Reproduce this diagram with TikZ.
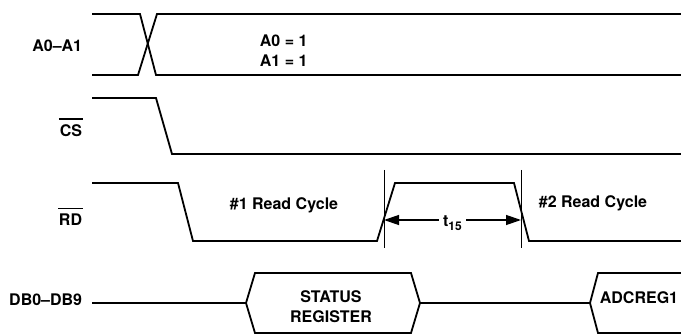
\documentclass[tikz,border=0pt]{standalone}
\usepackage{fontspec}
\setmainfont{TeX Gyre Heros}
\usetikzlibrary{arrows.meta, positioning, calc}

\begin{document}
\begin{tikzpicture}[x=1pt, y=-1pt, >={Triangle[length=15pt, width=10pt]}, line width=1.8pt,
  lbl/.style={font=\fontsize{16}{20}\selectfont\bfseries, inner sep=0pt},
  sig/.style={line width=1.8pt, line join=miter},
  mark line/.style={line width=0.8pt}]

\useasboundingbox (0,0) rectangle (681,334);

% Signal names
\node[lbl, anchor=east] (nA) at (83,46) {A0--A1};
\node[lbl, anchor=east] (nCS) at (83,131) {CS};
\node[lbl, anchor=east] (nRD) at (83,220) {RD};
\node[lbl, anchor=east] (nDB) at (83,300) {DB0--DB9};

% Bars over active-low names
\draw[line width=1.4pt] ([yshift=5pt]nCS.north west) -- ([yshift=5pt]nCS.north east);
\draw[line width=1.4pt] ([yshift=5pt]nRD.north west) -- ([yshift=5pt]nRD.north east);

% A0-A1
\draw[sig] (92,14) -- (140,14) -- (156,75) -- (681,75);
\draw[sig] (92,75) -- (138,75) -- (157,14) -- (681,14);
\node[lbl, anchor=west, align=left] (addr) at (259,51) {A0 = 1\\A1 = 1};

% CS
\draw[sig] (92,98) -- (156,98) -- (172,154) -- (681,154);

% RD
\draw[sig] (92,183) -- (178,183) -- (193,241) -- (377,241) -- (395,183)
  -- (514,183) -- (529,241) -- (681,241);
\node[lbl] (rc1) at (284,205) {\#1 Read Cycle};
\node[lbl] (rc2) at (593,203) {\#2 Read Cycle};

% t15 timing
\coordinate (m1) at (384,220);
\coordinate (m2) at (521,220);
\draw[mark line] (384,170) -- (384,248);
\draw[mark line] (521,170) -- (521,248);
\draw[<->, line width=1.3pt] (m1) -- node[lbl, fill=white, inner xsep=4pt, inner ysep=2pt, yshift=-3pt] (t15)
  {t\raisebox{-3.5pt}{\fontsize{12}{12}\selectfont 15}} (m2);

% DB0-DB9
\draw[sig] (92,303) -- (246,303);
\draw[sig] (246,303) -- (255,273) -- (411,273) -- (420,303) -- (411,333) -- (255,333) -- cycle;
\draw[sig] (420,303) -- (590,303);
\draw[sig] (681,273) -- (598,273) -- (590,303) -- (598,333) -- (681,333);
\node[lbl, align=center] (stat) at (331,307) {STATUS\\REGISTER};
\node[lbl] (adc) at (639,298) {ADCREG1};

\end{tikzpicture}
\end{document}
